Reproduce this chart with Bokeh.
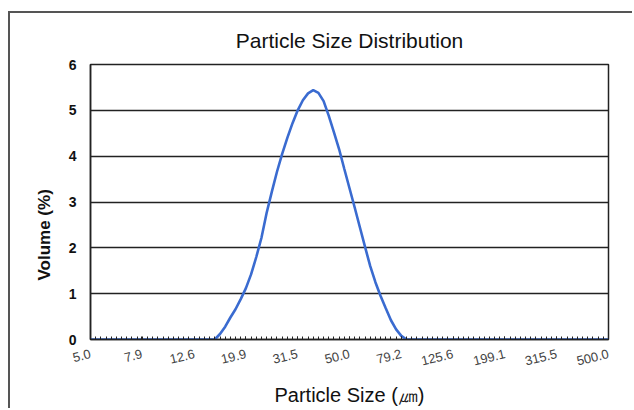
import math
from bokeh.plotting import figure
from bokeh.models import FixedTicker, PrintfTickFormatter, Range1d, Title
from bokeh.embed import file_html
from bokeh.resources import INLINE

# Particle size categories (um) where the distribution is drawn, and volume (%)
sizes = [5.0, 14.42, 15.10, 15.81, 16.56, 17.34, 18.15, 19.01, 19.91, 20.84, 21.83,
         22.86, 23.93, 25.06, 26.24, 27.48, 28.77, 30.13, 31.55, 33.03, 34.59,
         36.22, 37.93, 39.72, 41.59, 43.55, 45.60, 47.75, 50.00, 52.36, 54.83,
         57.41, 60.12, 62.95, 65.92, 69.02, 72.28, 75.68, 79.25, 82.98, 500.0]
volume = [0.0, 0.0, 0.0, 0.12, 0.28, 0.48, 0.66, 0.88, 1.12, 1.42, 1.8,
          2.22, 2.76, 3.22, 3.66, 4.05, 4.4, 4.72, 5.0, 5.22, 5.37,
          5.44, 5.38, 5.2, 4.88, 4.52, 4.15, 3.72, 3.3, 2.88, 2.45,
          2.02, 1.6, 1.25, 0.95, 0.68, 0.42, 0.22, 0.08, 0.0, 0.0]

x_tick_values = [5.0, 7.9, 12.6, 19.9, 31.5, 50.0, 79.2, 125.6, 199.1, 315.5, 500.0]
y_tick_values = [0, 1, 2, 3, 4, 5, 6]

# minor tick marks: one per measurement channel (0.02 decade steps)
minor = [5.0 * 10 ** (0.02 * k) for k in range(101)]

p = figure(width=624, height=397, output_backend="svg", toolbar_location=None,
           x_axis_type="log", x_range=Range1d(5.0, 500.0), y_range=Range1d(0, 6),
           min_border_left=80, min_border_right=26, min_border_top=51, min_border_bottom=71,
           styles={"margin-left": "8px", "margin-top": "11px",
                   "border-left": "2px solid #555", "border-top": "2px solid #555"})

p.title.text = "Particle Size Distribution"
p.title.align = "center"
p.title.text_font = "Liberation Sans"
p.title.text_font_size = "21px"
p.title.text_font_style = "normal"
p.title.text_color = "#111111"
p.title.standoff = 26

p.line(sizes, volume, line_color="#3a6bd0", line_width=2.6)

p.outline_line_color = "#222222"
p.outline_line_width = 1.5
p.background_fill_color = "white"
p.border_fill_color = "white"

p.xgrid.visible = False
p.ygrid.ticker = FixedTicker(ticks=y_tick_values)
p.ygrid.grid_line_color = "#222222"
p.ygrid.grid_line_width = 1.5

xa = p.xaxis[0]
xa.ticker = FixedTicker(ticks=x_tick_values, minor_ticks=minor)
xa.formatter = PrintfTickFormatter(format="%.1f")
xa.major_label_orientation = 0.24
xa.major_label_text_font = "Liberation Sans"
xa.major_label_text_font_size = "13px"
xa.major_label_text_color = "#444444"
xa.major_label_standoff = 14
xa.major_tick_in = 3
xa.major_tick_out = 0
xa.minor_tick_in = 3
xa.minor_tick_out = 0
xa.major_tick_line_color = "#222222"
xa.minor_tick_line_color = "#222222"
xa.axis_line_color = "#222222"
xa.axis_line_width = 1.5
xa.axis_label = "Particle Size (\u339b)"
xa.axis_label_text_font = "Liberation Sans"
xa.axis_label_text_font_size = "20px"
xa.axis_label_text_font_style = "normal"
xa.axis_label_text_color = "#111111"
xa.axis_label_standoff = 11

ya = p.yaxis[0]
ya.ticker = FixedTicker(ticks=y_tick_values)
ya.major_label_text_font = "Liberation Sans"
ya.major_label_text_font_size = "14px"
ya.major_label_text_font_style = "bold"
ya.major_label_text_color = "#111111"
ya.major_label_standoff = 14
ya.major_tick_in = 0
ya.major_tick_out = 0
ya.minor_tick_line_color = None
ya.axis_line_color = "#222222"
ya.axis_line_width = 1.5

ytitle = Title(text="Volume (%)", align="left", offset=59, standoff=24,
               text_font="Liberation Sans", text_font_size="17px",
               text_font_style="bold", text_color="#111111")
p.add_layout(ytitle, "left")

open("out.html", "w").write(file_html(p, INLINE))
